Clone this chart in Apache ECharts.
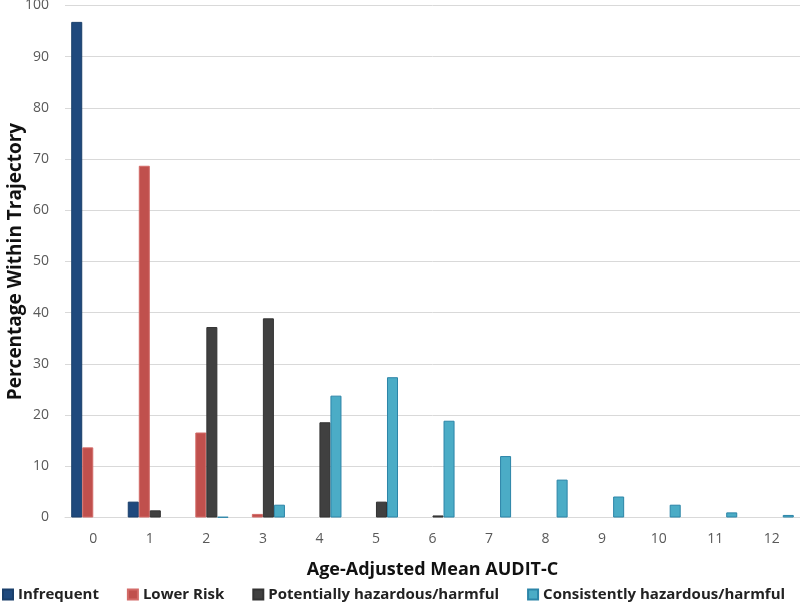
<!DOCTYPE html>
<html><head><meta charset="utf-8">
<script src="https://cdn.jsdelivr.net/npm/echarts@6/dist/echarts.min.js"></script>
<style>html,body{margin:0;padding:0;background:#fff}#c{width:800px;height:606px}</style>
</head><body><div id="c"></div>
<script>
const categories = ['0','1','2','3','4','5','6','7','8','9','10','11','12'];
const infrequent = [96.8, 3.1, 0, 0, 0, 0, 0, 0, 0, 0, 0, 0, 0];
const lowerRisk = [13.7, 68.7, 16.6, 0.7, 0, 0, 0, 0, 0, 0, 0, 0, 0];
const potentially = [0, 1.4, 37.2, 38.9, 18.6, 3.1, 0.4, 0, 0, 0, 0, 0, 0];
const consistently = [0, 0, 0.1, 2.5, 23.8, 27.4, 18.9, 12.0, 7.4, 4.1, 2.5, 1.0, 0.5];
const seriesNames = ['Infrequent','Lower Risk','Potentially hazardous/harmful','Consistently hazardous/harmful'];
const colors = ['#1F497D','#C0504D','#404040','#4BACC6'];
const borders = ['#1a3f6b','#d36b68','#333333','#2c85a8'];
const font = '"Open Sans", "Liberation Sans", sans-serif';
const dataSets = [infrequent, lowerRisk, potentially, consistently];
const chart = echarts.init(document.getElementById('c'));
chart.setOption({
  animation: false,
  grid: {left: 65, right: 0, top: 5.5, bottom: 88.5, containLabel: false, outerBoundsMode: 'none'},
  legend: {
    top: 587, left: 2, width: 798, itemWidth: 10, itemHeight: 10, itemGap: 28, icon: 'rect',
    padding: 0,
    textStyle: {fontFamily: font, fontWeight: 'bold', fontSize: 15, color: '#222'},
    data: seriesNames
  },
  xAxis: {
    type: 'category', data: categories,
    name: 'Age-Adjusted Mean AUDIT-C', nameLocation: 'middle', nameGap: 43,
    nameTextStyle: {fontFamily: font, fontWeight: 'bold', fontSize: 18, color: '#111'},
    axisLine: {lineStyle: {color: '#d9d9d9', width: 1}},
    axisTick: {show: false},
    axisLabel: {fontFamily: font, fontSize: 14, color: '#595959', margin: 15}
  },
  yAxis: {
    type: 'value', min: 0, max: 100, interval: 10,
    name: 'Percentage Within Trajectory', nameLocation: 'middle', nameGap: 40,
    nameMoveOverlap: false,
    nameTextStyle: {fontFamily: font, fontWeight: 'bold', fontSize: 19, color: '#111'},
    axisLine: {show: false}, axisTick: {show: false},
    axisLabel: {fontFamily: font, fontSize: 14, color: '#595959', margin: 16},
    splitLine: {lineStyle: {color: '#d9d9d9', width: 1}}
  },
  series: dataSets.map((d, i) => ({
    name: seriesNames[i], type: 'bar', data: d.map(v => v === 0 ? '-' : v),
    barGap: '0%', barCategoryGap: '22%',
    itemStyle: {color: colors[i], borderColor: borders[i], borderWidth: 1}
  }))
});
</script></body></html>
